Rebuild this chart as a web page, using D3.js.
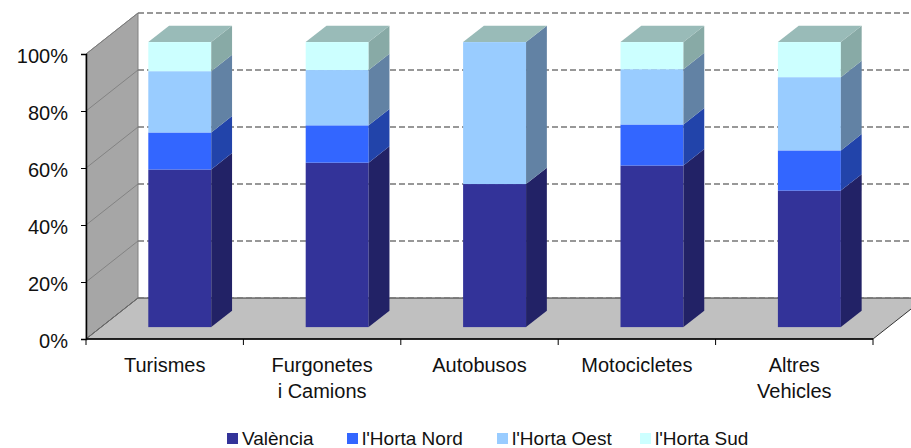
<!DOCTYPE html>
<html>
<head>
<meta charset="utf-8">
<script src="https://cdn.jsdelivr.net/npm/d3@7"></script>
<style>
  body { margin: 0; background: #fff; }
  svg { display: block; font-family: Arial, "Liberation Sans", sans-serif; }
</style>
</head>
<body>
<div id="chart"></div>
<script>
const categories = ["Turismes", "Furgonetes i Camions", "Autobusos", "Motocicletes", "Altres Vehicles"];
const categoryLines = [["Turismes"], ["Furgonetes", "i Camions"], ["Autobusos"], ["Motocicletes"], ["Altres", "Vehicles"]];
const seriesNames = ["València", "l'Horta Nord", "l'Horta Oest", "l'Horta Sud"];
const valencia = [55.3, 57.7, 50.2, 56.7, 47.9];
const hortaNord = [13.0, 13.1, 0, 14.4, 14.1];
const hortaOest = [21.5, 19.4, 49.8, 19.4, 25.7];
const hortaSud = [10.2, 9.8, 0, 9.5, 12.3];
const yTicks = [0, 0.2, 0.4, 0.6, 0.8, 1];

const frontColors = ["#333399", "#3366ff", "#99ccff", "#ccffff"];
const sideColors = ["#222266", "#2244aa", "#6282a4", "#88aaa6"];
const topColors = ["#2a2a80", "#2d55cc", "#99bbb8", "#99bbb8"];

const width = 911, height = 448;
const depthX = 52, depthY = -41;        // full floor depth
const barT0 = 0.29, barT1 = 0.69;       // bar depth within the floor

const rows = categories.map((c, i) => ({
  cat: c,
  [seriesNames[0]]: valencia[i],
  [seriesNames[1]]: hortaNord[i],
  [seriesNames[2]]: hortaOest[i],
  [seriesNames[3]]: hortaSud[i]
}));

const stacked = d3.stack().keys(seriesNames).offset(d3.stackOffsetExpand)(rows);

const x = d3.scaleBand().domain(categories).range([86, 873]).padding(0);
const y = d3.scaleLinear().domain([0, 1]).range([339, 54]);

const svg = d3.select("#chart").append("svg")
  .attr("width", width).attr("height", height);

const pt = (px, py, t) => [px + depthX * t, py + depthY * t];
const poly = pts => pts.map(p => p.join(",")).join(" ");

// left wall
const x0 = x.range()[0], x1 = x.range()[1];
svg.append("polygon")
  .attr("points", poly([[x0, y(0)], [x0, y(1)], pt(x0, y(1), 1), pt(x0, y(0), 1)]))
  .attr("fill", "#a6a6a6").attr("stroke", "#808080").attr("stroke-width", 1);

// floor
svg.append("polygon")
  .attr("points", poly([[x0, y(0)], [x1, y(0)], pt(x1, y(0), 1), pt(x0, y(0), 1)]))
  .attr("fill", "#c0c0c0").attr("stroke", "#333").attr("stroke-width", 1);

// gridlines on the wall and the back
yTicks.forEach(v => {
  svg.append("line")
    .attr("x1", x0).attr("y1", y(v))
    .attr("x2", pt(x0, y(v), 1)[0]).attr("y2", pt(x0, y(v), 1)[1])
    .attr("stroke", "#7a7a7a").attr("stroke-width", 0.8);
  svg.append("line")
    .attr("x1", pt(x0, y(v), 1)[0]).attr("y1", pt(x0, y(v), 1)[1])
    .attr("x2", pt(x1, y(v), 1)[0]).attr("y2", pt(x1, y(v), 1)[1])
    .attr("stroke", "#777").attr("stroke-width", 1.6)
    .attr("stroke-dasharray", "6,3");
});

// bars
const barW = x.bandwidth() * 0.4;
const bdx = depthX * (barT1 - barT0), bdy = depthY * (barT1 - barT0);
const bars = svg.append("g");

categories.forEach((c, i) => {
  const left = x(c) + (x.bandwidth() - barW) / 2;
  const [fl] = pt(left, 0, barT0);
  const fr = fl + barW;
  const off = depthY * barT0;
  let topIdx = -1;
  stacked.forEach((s, k) => { if (s[i][1] - s[i][0] > 0) topIdx = k; });
  stacked.forEach((s, k) => {
    const d = s[i];
    if (d[1] - d[0] <= 0) return;
    const yb = y(d[0]) + off, yt = y(d[1]) + off;
    bars.append("rect")
      .attr("x", fl).attr("y", yt)
      .attr("width", barW).attr("height", yb - yt)
      .attr("fill", frontColors[k]);
    bars.append("polygon")
      .attr("points", poly([[fr, yt], [fr + bdx, yt + bdy], [fr + bdx, yb + bdy], [fr, yb]]))
      .attr("fill", sideColors[k]);
    if (k === topIdx) {
      bars.append("polygon")
        .attr("points", poly([[fl, yt], [fl + bdx, yt + bdy], [fr + bdx, yt + bdy], [fr, yt]]))
        .attr("fill", topColors[k]);
    }
  });
});

// axes
const yAxis = d3.axisLeft(y).tickValues(yTicks).tickFormat(d3.format(".0%"))
  .tickSize(5).tickPadding(13);
const gy = svg.append("g").attr("transform", `translate(${x0},0)`).call(yAxis);
gy.select(".domain").attr("stroke", "#000").attr("stroke-width", 1.5);
gy.selectAll(".tick line").attr("stroke", "#000");
gy.selectAll("text").attr("font-size", 20).attr("fill", "#111")
  .attr("font-family", "Arial, 'Liberation Sans', sans-serif").attr("dy", "0.42em");

svg.append("line").attr("x1", x0).attr("x2", x1).attr("y1", y(0)).attr("y2", y(0))
  .attr("stroke", "#000").attr("stroke-width", 1.5);
const bounds = categories.map(c => x(c)).concat([x1]);
svg.selectAll(".ctick").data(bounds).enter().append("line")
  .attr("x1", d => d).attr("x2", d => d)
  .attr("y1", y(0)).attr("y2", y(0) + 6)
  .attr("stroke", "#000");

const labels = svg.selectAll(".clabel").data(categories).enter().append("text")
  .attr("text-anchor", "middle").attr("font-size", 20).attr("fill", "#111")
  .attr("x", d => x(d) + x.bandwidth() / 2).attr("y", 372);
labels.each(function (d, i) {
  categoryLines[i].forEach((line, j) => {
    d3.select(this).append("tspan")
      .attr("x", x(d) + x.bandwidth() / 2).attr("dy", j === 0 ? 0 : 26).text(line);
  });
});

// legend
const legendX = [227, 347, 497, 640];
const legend = svg.append("g");
seriesNames.forEach((n, k) => {
  legend.append("rect").attr("x", legendX[k]).attr("y", 433)
    .attr("width", 11).attr("height", 11).attr("fill", frontColors[k]);
  legend.append("text").attr("x", legendX[k] + 15).attr("y", 445)
    .attr("font-size", 19).attr("fill", "#111").text(n);
});
</script>
</body>
</html>
